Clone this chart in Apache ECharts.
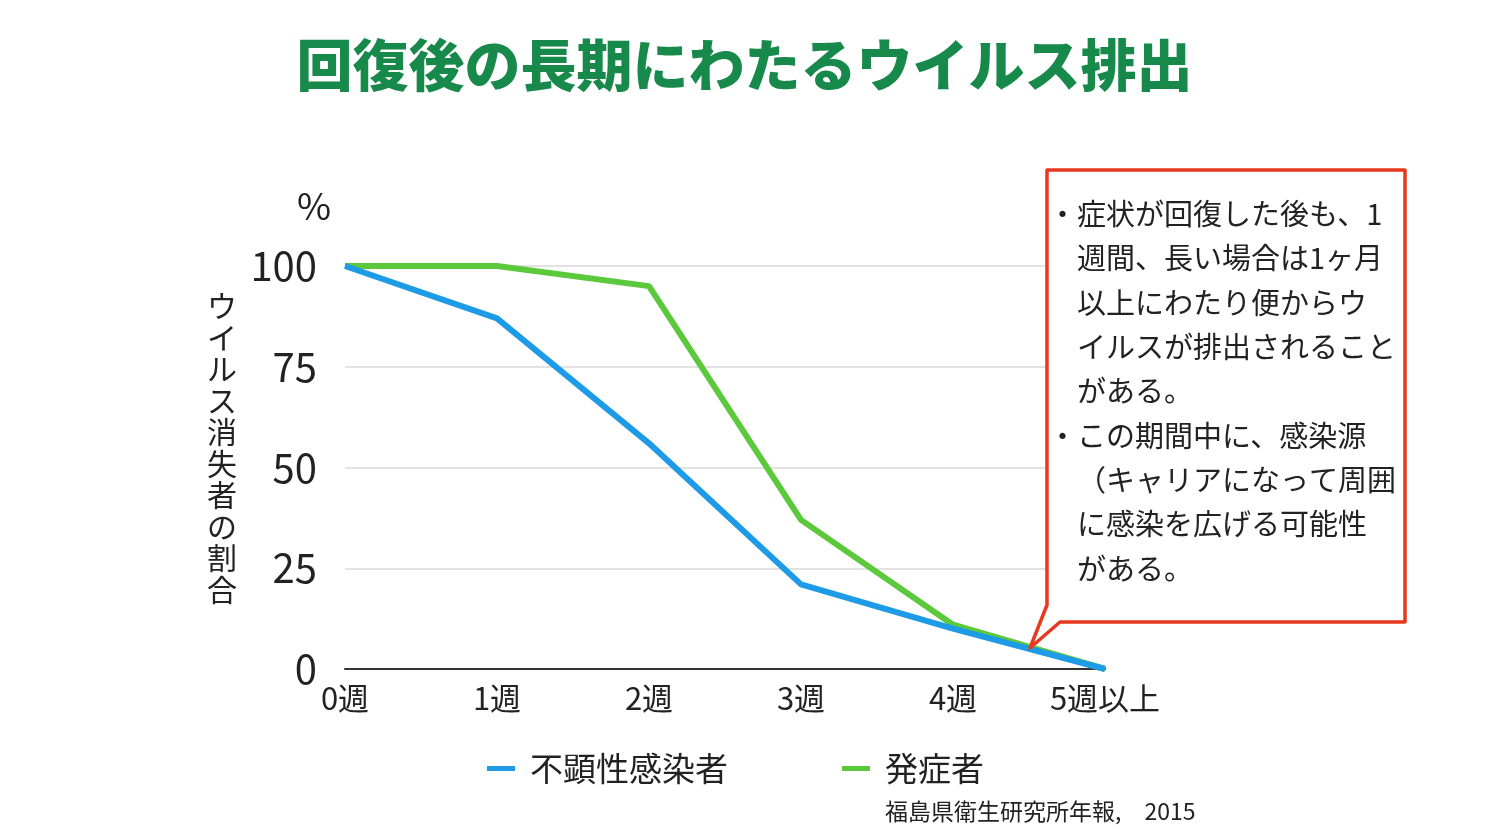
<!DOCTYPE html>
<html>
<head>
<meta charset="utf-8">
<script src="https://cdn.jsdelivr.net/npm/echarts@6/dist/echarts.min.js"></script>
<style>
  html, body { margin: 0; padding: 0; background: #fff; }
  #chart { width: 1489px; height: 838px; }
</style>
</head>
<body>
<div id="chart"></div>
<script>
const weeks = ['0週', '1週', '2週', '3週', '4週', '5週以上'];
const asymptomatic = [100, 87, 56, 21, 10, 0]; // 不顕性感染者
const symptomatic = [100, 100, 95, 37, 11, 0]; // 発症者
const yTicks = [0, 25, 50, 75, 100];

const FONT = '"Noto Sans CJK JP", "Noto Sans", sans-serif';
const noteLines = [
  '症状が回復した後も、1',
  '週間、長い場合は1ヶ月',
  '以上にわたり便からウ',
  'イルスが排出されること',
  'がある。',
  'この期間中に、感染源',
  '（キャリアになって周囲',
  'に感染を広げる可能性',
  'がある。'
];

const chart = echarts.init(document.getElementById('chart'));
chart.setOption({
  backgroundColor: '#fff',
  textStyle: { fontFamily: FONT },
  title: {
    text: '回復後の長期にわたるウイルス排出',
    left: 'center',
    top: 32,
    textStyle: { fontSize: 56, fontWeight: 900, color: '#17894a', fontFamily: FONT }
  },
  grid: { left: 345, right: 384, top: 266, bottom: 169 },
  legend: {
    bottom: 48,
    left: 482,
    itemGap: 114,
    itemWidth: 28,
    itemHeight: 5,
    icon: 'rect',
    textStyle: { fontSize: 33, color: '#222', padding: [0, 0, 0, 10] },
    data: ['不顕性感染者', '発症者']
  },
  xAxis: {
    type: 'category',
    data: weeks,
    boundaryGap: false,
    axisLine: { lineStyle: { color: '#333', width: 2 } },
    axisTick: { show: false },
    axisLabel: { fontSize: 31, color: '#222', margin: 14 }
  },
  yAxis: {
    type: 'value',
    min: 0,
    max: 100,
    interval: 25,
    name: '%',
    nameLocation: 'end',
    nameGap: 42,
    nameTextStyle: { fontSize: 37, color: '#222', align: 'right', padding: [0, 14, 0, 0] },
    axisLine: { show: false },
    axisTick: { show: false },
    axisLabel: {
      fontSize: 40,
      color: '#222',
      margin: 28,
      formatter: v => yTicks.includes(v) ? String(v) : ''
    },
    splitLine: { lineStyle: { color: '#d9d9d9', width: 1.5 } }
  },
  series: [
    {
      name: '不顕性感染者',
      type: 'line',
      data: asymptomatic,
      symbol: 'none',
      color: '#1d9be6',
      lineStyle: { width: 6, color: '#1d9be6' },
      z: 3
    },
    {
      name: '発症者',
      type: 'line',
      data: symptomatic,
      symbol: 'none',
      color: '#5cc93d',
      lineStyle: { width: 6, color: '#5cc93d' },
      z: 2
    }
  ],
  graphic: [
    {
      type: 'text',
      left: 207,
      top: 290,
      style: {
        text: 'ウイルス消失者の割合'.split('').join('\n'),
        font: '30px ' + FONT,
        fill: '#222',
        lineHeight: 31.5,
        align: 'left'
      }
    },
    {
      type: 'polygon',
      shape: {
        points: [[1047, 170], [1405, 170], [1405, 622], [1060, 622], [1030, 648], [1047, 605]]
      },
      style: { fill: '#fff', stroke: '#e8391f', lineWidth: 3.5, lineJoin: 'round' },
      z: 10
    },
    {
      type: 'text',
      x: 1077,
      y: 192,
      style: {
        text: noteLines.join('\n'),
        font: '29px ' + FONT,
        fill: '#222',
        lineHeight: 44.3
      },
      z: 11
    },
    {
      type: 'text',
      x: 1048,
      y: 192,
      style: { text: '・', font: '29px ' + FONT, fill: '#222', lineHeight: 44.3 },
      z: 11
    },
    {
      type: 'text',
      x: 1048,
      y: 192 + 44.3 * 5,
      style: { text: '・', font: '29px ' + FONT, fill: '#222', lineHeight: 44.3 },
      z: 11
    },
    {
      type: 'text',
      x: 885,
      y: 800,
      style: { text: '福島県衛生研究所年報,　2015', font: '23px ' + FONT, fill: '#222' }
    }
  ]
});
</script>
</body>
</html>
